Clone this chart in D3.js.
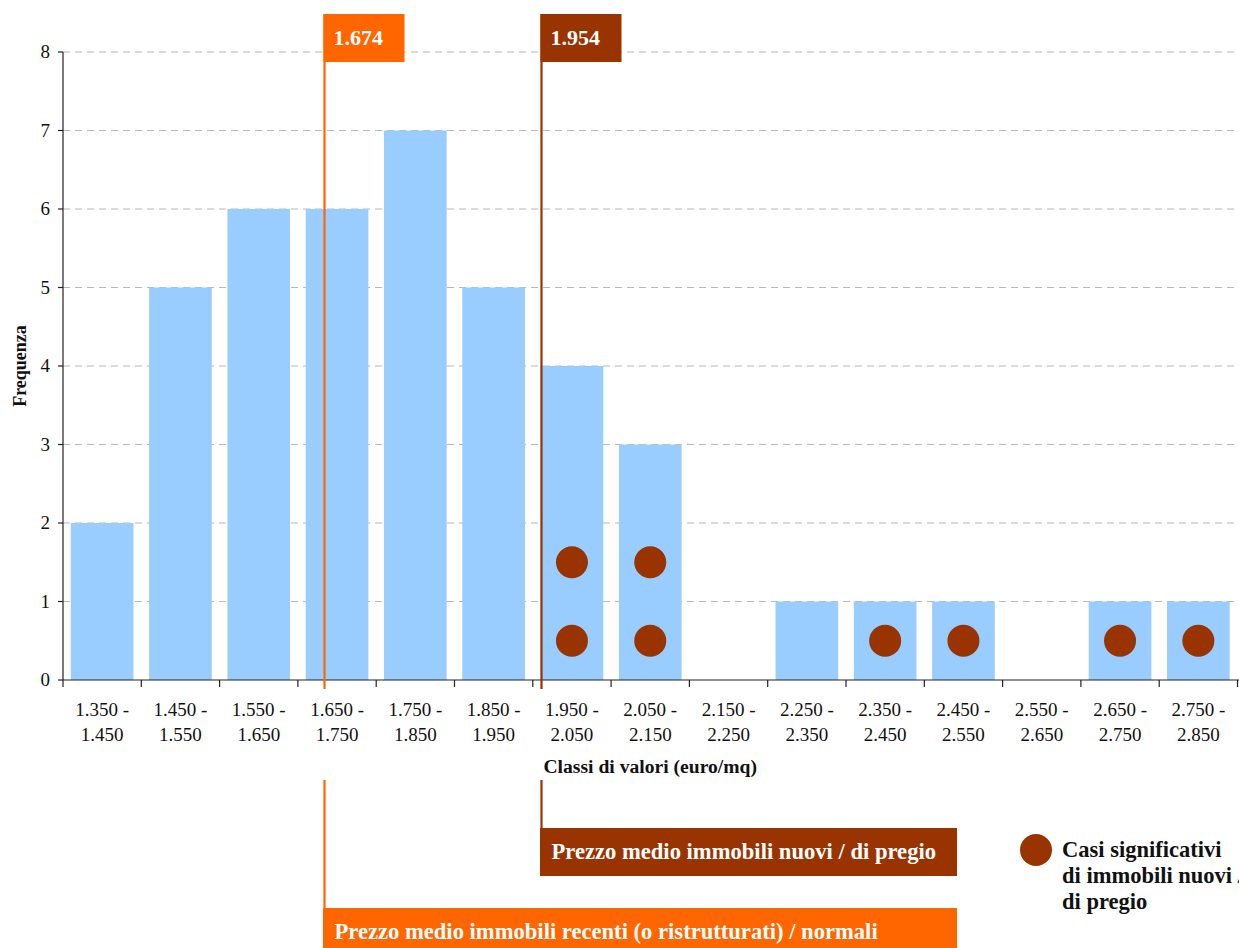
<!DOCTYPE html>
<html>
<head>
<meta charset="utf-8">
<script src="https://cdn.jsdelivr.net/npm/d3@7/dist/d3.min.js"></script>
<style>
  html, body { margin: 0; padding: 0; background: #fff; }
  svg { display: block; font-family: "Liberation Serif", "Times New Roman", serif; }
</style>
</head>
<body>
<svg id="chart" width="1239" height="948"></svg>
<script>
// ---- Data ----
const classes = ["1.350 - 1.450","1.450 - 1.550","1.550 - 1.650","1.650 - 1.750","1.750 - 1.850",
                 "1.850 - 1.950","1.950 - 2.050","2.050 - 2.150","2.150 - 2.250","2.250 - 2.350",
                 "2.350 - 2.450","2.450 - 2.550","2.550 - 2.650","2.650 - 2.750","2.750 - 2.850"];
const frequencies = [2, 5, 6, 6, 7, 5, 4, 3, 0, 1, 1, 1, 0, 1, 1];
const yTicks = [0, 1, 2, 3, 4, 5, 6, 7, 8];
const caseClasses = ["1.950 - 2.050","1.950 - 2.050","2.050 - 2.150","2.050 - 2.150",
                     "2.350 - 2.450","2.450 - 2.550","2.650 - 2.750","2.750 - 2.850"];
const caseLevels = [0.5, 1.5, 0.5, 1.5, 0.5, 0.5, 0.5, 0.5];
const priceDomain = [1.35, 2.85];
const markerValues = [1.674, 1.954];
const markerLabels = ["1.674", "1.954"];
const markerTexts = ["Prezzo medio immobili recenti (o ristrutturati) / normali",
                     "Prezzo medio immobili nuovi / di pregio"];
const markerColors = ["#FF6600", "#993300"];
const legendLines = ["Casi significativi", "di immobili nuovi /", "di pregio"];
const xTitle = "Classi di valori (euro/mq)";
const yTitle = "Frequenza";

// ---- Layout ----
(function () {
const svg = d3.select("#chart");
const pLeft = 63, pRight = 1237.5, pTop = 52, pBottom = 680;

const x = d3.scaleBand().domain(classes).range([pLeft, pRight]).paddingInner(0.2).paddingOuter(0.1);
const y = d3.scaleLinear().domain([0, 8]).range([pBottom, pTop]);
const xPrice = d3.scaleLinear().domain(priceDomain).range([73.4, 1235.9]);
const step = x.step();

// gridlines
svg.append("g").selectAll("line").data(yTicks.filter(d => d > 0)).join("line")
  .attr("x1", pLeft).attr("x2", 1239)
  .attr("y1", d => y(d)).attr("y2", d => y(d))
  .attr("stroke", "#b8b8b8").attr("stroke-width", 1.2).attr("stroke-dasharray", "7,5");

// bars
svg.append("g").selectAll("rect").data(frequencies).join("rect")
  .attr("x", (d, i) => x(classes[i]))
  .attr("width", x.bandwidth())
  .attr("y", d => y(d))
  .attr("height", d => y(0) - y(d))
  .attr("fill", "#99CCFF");

// dots
svg.append("g").selectAll("circle").data(caseLevels).join("circle")
  .attr("cx", (d, i) => x(caseClasses[i]) + x.bandwidth() / 2)
  .attr("cy", d => y(d))
  .attr("r", 16)
  .attr("fill", "#993300");

// y axis
const yAxis = svg.append("g");
yAxis.append("line").attr("x1", pLeft).attr("x2", pLeft).attr("y1", pTop).attr("y2", pBottom)
  .attr("stroke", "#222").attr("stroke-width", 1.2);
yAxis.selectAll("line.t").data(yTicks).join("line").attr("class", "t")
  .attr("x1", pLeft - 5).attr("x2", pLeft).attr("y1", d => y(d)).attr("y2", d => y(d))
  .attr("stroke", "#222").attr("stroke-width", 1.2);
yAxis.selectAll("text").data(yTicks).join("text")
  .attr("x", pLeft - 13).attr("y", d => y(d) + 6)
  .attr("text-anchor", "end").attr("font-size", 19).attr("fill", "#111")
  .text(d => d);

// x axis
const xAxis = svg.append("g");
xAxis.append("line").attr("x1", pLeft).attr("x2", 1239).attr("y1", pBottom).attr("y2", pBottom)
  .attr("stroke", "#222").attr("stroke-width", 1.2);
const boundaries = d3.range(classes.length + 1).map(i => pLeft + i * step);
xAxis.selectAll("line.t").data(boundaries).join("line").attr("class", "t")
  .attr("x1", d => d).attr("x2", d => d).attr("y1", pBottom).attr("y2", pBottom + 7)
  .attr("stroke", "#222").attr("stroke-width", 1.2);
const lbl = xAxis.selectAll("text").data(classes).join("text")
  .attr("text-anchor", "middle").attr("font-size", 19).attr("fill", "#111");
lbl.each(function(d) {
  const parts = d.split(" - ");
  const cx = x(d) + x.bandwidth() / 2;
  const t = d3.select(this);
  t.append("tspan").attr("x", cx).attr("y", 716).text(parts[0] + " -");
  t.append("tspan").attr("x", cx).attr("y", 741).text(parts[1]);
});

// axis titles
svg.append("text").attr("x", (pLeft + pRight) / 2).attr("y", 773)
  .attr("text-anchor", "middle").attr("font-size", 19.6).attr("font-weight", "bold").attr("fill", "#111")
  .text(xTitle);
svg.append("text").attr("transform", `translate(26, ${(pTop + pBottom) / 2}) rotate(-90)`)
  .attr("text-anchor", "middle").attr("font-size", 18).attr("font-weight", "bold").attr("fill", "#111")
  .text(yTitle);

// markers
const bottomBoxTop = [908, 828];
markerValues.forEach((v, i) => {
  const mx = xPrice(v);
  const col = markerColors[i];
  const g = svg.append("g");
  g.append("line").attr("x1", mx).attr("x2", mx).attr("y1", 14).attr("y2", 689)
    .attr("stroke", col).attr("stroke-width", 2.2);
  g.append("line").attr("x1", mx).attr("x2", mx).attr("y1", 780).attr("y2", bottomBoxTop[i])
    .attr("stroke", col).attr("stroke-width", 2.2);
  g.append("rect").attr("x", mx - 1).attr("y", 14).attr("width", 81).attr("height", 48).attr("fill", col);
  g.append("text").attr("x", mx + 9).attr("y", 45).attr("font-size", 22).attr("font-weight", "bold")
    .attr("fill", "#fff").text(markerLabels[i]);
  g.append("rect").attr("x", mx - 1.5).attr("y", bottomBoxTop[i]).attr("width", 957 - (mx - 1.5)).attr("height", 48)
    .attr("fill", col);
  g.append("text").attr("x", mx + 10).attr("y", bottomBoxTop[i] + 31).attr("font-size", 22.6).attr("font-weight", "bold")
    .attr("fill", "#fff").text(markerTexts[i]);
});

// legend
svg.append("circle").attr("cx", 1036).attr("cy", 850).attr("r", 16).attr("fill", "#993300");
const lg = svg.append("text").attr("font-size", 22.5).attr("font-weight", "bold").attr("fill", "#111");
legendLines.forEach((s, i) => {
  lg.append("tspan").attr("x", 1062).attr("y", 857 + i * 26).text(s);
});
})();
</script>
</body>
</html>
